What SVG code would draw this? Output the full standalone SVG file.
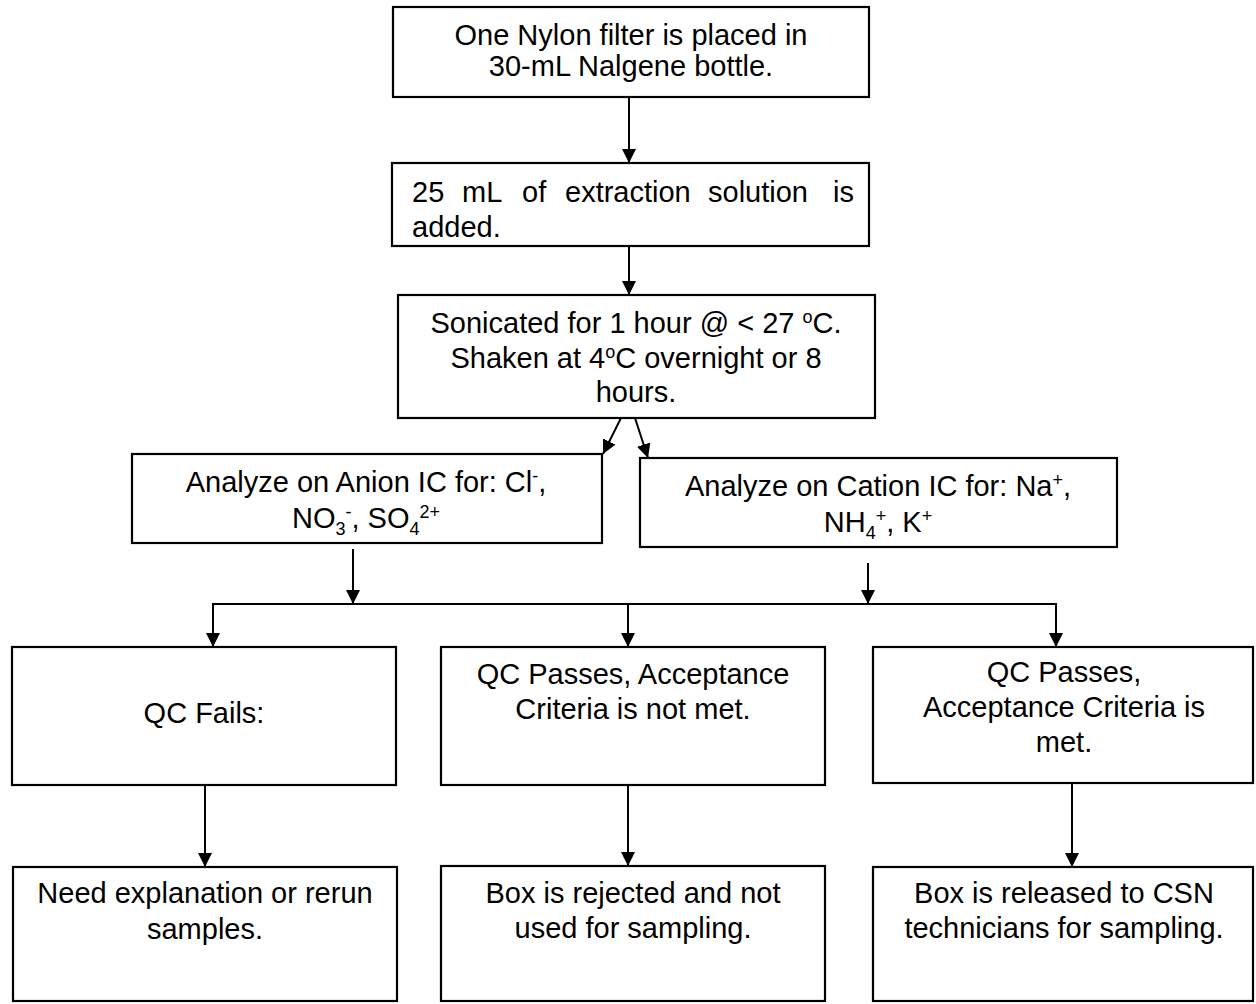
<svg xmlns="http://www.w3.org/2000/svg" width="1256" height="1004" viewBox="0 0 1256 1004">
<style>
.box{fill:#fff;stroke:#000;stroke-width:2.2}
.t{font-family:"Liberation Sans",Arial,sans-serif;font-size:29px;fill:#000}
.c{text-anchor:middle}
.con{fill:none;stroke:#000;stroke-width:2}
.s{font-size:18px}
</style>
<defs>
<marker id="ah" markerUnits="userSpaceOnUse" markerWidth="14" markerHeight="14" refX="14" refY="7" orient="auto">
<path d="M0,0 L14,7 L0,14 z" fill="#000"/>
</marker>
</defs>
<rect width="1256" height="1004" fill="#fff"/>
<g id="connectors">
<path class="con" d="M629,97 V163" marker-end="url(#ah)"/>
<path class="con" d="M629,246 V295" marker-end="url(#ah)"/>
<path class="con" d="M621,418 L603,454" marker-end="url(#ah)"/>
<path class="con" d="M635,418 L648,458" marker-end="url(#ah)"/>
<path class="con" d="M353,549 V604" marker-end="url(#ah)"/>
<path class="con" d="M868,563 V604" marker-end="url(#ah)"/>
<path class="con" d="M212,604 H1057"/>
<path class="con" d="M213,604 V647" marker-end="url(#ah)"/>
<path class="con" d="M628,604 V647" marker-end="url(#ah)"/>
<path class="con" d="M1056,604 V647" marker-end="url(#ah)"/>
<path class="con" d="M205,785 V867" marker-end="url(#ah)"/>
<path class="con" d="M628,785 V866" marker-end="url(#ah)"/>
<path class="con" d="M1072,783 V867" marker-end="url(#ah)"/>
</g>
<g id="n1">
<rect class="box" x="393" y="7" width="476" height="90"/>
<text class="t c" x="631" y="45">One Nylon filter is placed in</text>
<text class="t c" x="631" y="76">30-mL Nalgene bottle.</text>
</g>
<g id="n2">
<rect class="box" x="392" y="163" width="477" height="83"/>
<text class="t" y="202"><tspan x="412">25</tspan><tspan x="462">mL</tspan><tspan x="522">of</tspan><tspan x="565">extraction</tspan><tspan x="708">solution</tspan><tspan x="833">is</tspan></text>
<text class="t" x="412" y="237">added.</text>
</g>
<g id="n3">
<rect class="box" x="398" y="295" width="477" height="123"/>
<text class="t c" x="636" y="333">Sonicated for 1 hour @ &lt; 27 <tspan class="s" dy="-10">o</tspan><tspan dy="10">C.</tspan></text>
<text class="t c" x="636" y="368">Shaken at 4<tspan class="s" dy="-10">o</tspan><tspan dy="10">C overnight or 8</tspan></text>
<text class="t c" x="636" y="402">hours.</text>
</g>
<g id="n4">
<rect class="box" x="132" y="454" width="470" height="89"/>
<text class="t c" x="366" y="492">Analyze on Anion IC for: Cl<tspan class="s" dy="-10">-</tspan><tspan dy="10">,</tspan></text>
<text class="t c" x="366" y="528">NO<tspan class="s" dy="7">3</tspan><tspan class="s" dy="-17">-</tspan><tspan dy="10">, SO</tspan><tspan class="s" dy="7">4</tspan><tspan class="s" dy="-17">2+</tspan></text>
</g>
<g id="n5">
<rect class="box" x="640" y="458" width="477" height="89"/>
<text class="t c" x="878" y="496">Analyze on Cation IC for: Na<tspan class="s" dy="-10">+</tspan><tspan dy="10">,</tspan></text>
<text class="t c" x="878" y="532">NH<tspan class="s" dy="7">4</tspan><tspan class="s" dy="-17">+</tspan><tspan dy="10">, K</tspan><tspan class="s" dy="-10">+</tspan></text>
</g>
<g id="n6">
<rect class="box" x="12" y="647" width="384" height="138"/>
<text class="t c" x="204" y="723">QC Fails:</text>
</g>
<g id="n7">
<rect class="box" x="441" y="647" width="384" height="138"/>
<text class="t c" x="633" y="684">QC Passes, Acceptance</text>
<text class="t c" x="633" y="719">Criteria is not met.</text>
</g>
<g id="n8">
<rect class="box" x="873" y="647" width="380" height="136"/>
<text class="t c" x="1064" y="682">QC Passes,</text>
<text class="t c" x="1064" y="717">Acceptance Criteria is</text>
<text class="t c" x="1064" y="752">met.</text>
</g>
<g id="n9">
<rect class="box" x="13" y="867" width="384" height="134"/>
<text class="t c" x="205" y="903">Need explanation  or rerun</text>
<text class="t c" x="205" y="939">samples.</text>
</g>
<g id="n10">
<rect class="box" x="441" y="866" width="384" height="135"/>
<text class="t c" x="633" y="903">Box is rejected and not</text>
<text class="t c" x="633" y="938">used for sampling.</text>
</g>
<g id="n11">
<rect class="box" x="873" y="867" width="380" height="134"/>
<text class="t c" x="1064" y="903">Box is released to CSN</text>
<text class="t c" x="1064" y="938">technicians for sampling.</text>
</g>
</svg>
